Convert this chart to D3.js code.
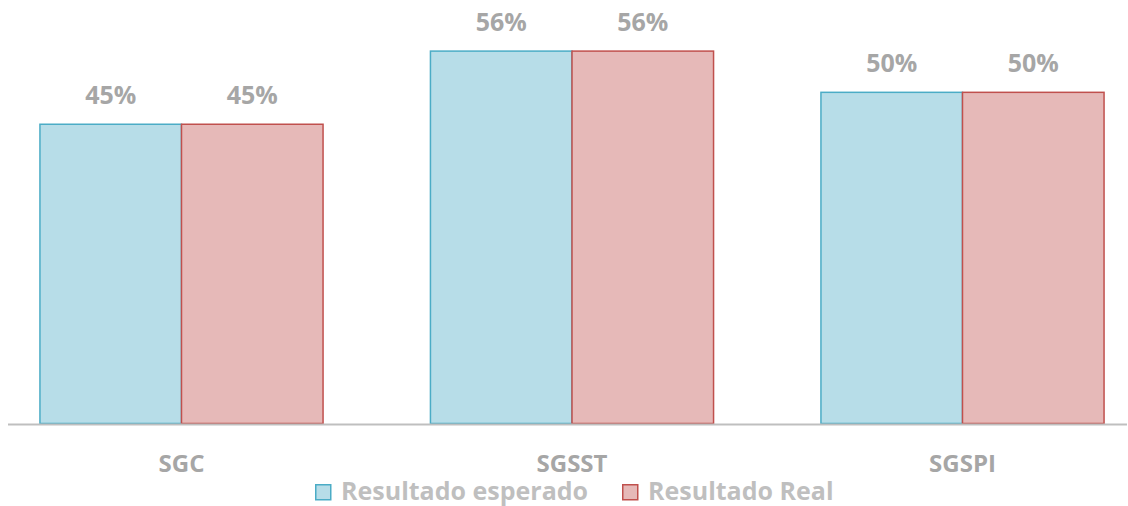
<!DOCTYPE html>
<html>
<head>
<meta charset="utf-8">
<script src="https://cdn.jsdelivr.net/npm/d3@7"></script>
<style>
  body { margin: 0; background: #fff; }
  svg { display: block; font-family: "Open Sans", sans-serif; font-weight: bold; }
</style>
</head>
<body>
<svg id="chart" width="1128" height="506"></svg>
<script>
var categories = ["SGC", "SGSST", "SGSPI"];
var seriesNames = ["Resultado esperado", "Resultado Real"];
var esperado = [0.45, 0.56, 0.498];
var real = [0.45, 0.56, 0.498];

var fills = ["#b7dde8", "#e6b9b8"];
var strokes = ["#4bacc6", "#c0504d"];

var svg = d3.select("#chart");
var baseY = 423.5;

var x = d3.scaleBand().domain(categories)
    .range([-13.75, 1157.75])
    .paddingInner(0.275)
    .paddingOuter(0.1375);
var xs = d3.scaleBand().domain(seriesNames).range([0, x.bandwidth()]);
var y = d3.scaleLinear().domain([0, 0.6]).range([baseY, baseY - 0.6 * 665]);
var fmt = d3.format(".0%");

var rows = categories.map(function (c, i) {
    return { cat: c, values: [esperado[i], real[i]] };
});

var groups = svg.append("g").selectAll("g")
    .data(rows)
    .enter()
    .append("g")
    .attr("transform", function (d) { return "translate(" + x(d.cat) + ",0)"; });

var bars = groups.selectAll("g")
    .data(function (d) { return d.values.map(function (v, j) { return { v: v, s: seriesNames[j], j: j }; }); })
    .enter()
    .append("g");

bars.append("rect")
    .attr("x", function (d) { return xs(d.s); })
    .attr("y", function (d) { return y(d.v); })
    .attr("width", xs.bandwidth())
    .attr("height", function (d) { return baseY - y(d.v); })
    .attr("fill", function (d) { return fills[d.j]; })
    .attr("stroke", function (d) { return strokes[d.j]; })
    .attr("stroke-width", 1.5);

bars.append("text")
    .attr("x", function (d) { return xs(d.s) + xs.bandwidth() / 2; })
    .attr("y", function (d) { return y(d.v) - 20; })
    .attr("text-anchor", "middle")
    .attr("font-size", 25)
    .attr("fill", "#a6a6a6")
    .text(function (d) { return fmt(d.v); });

// axis line
svg.append("line")
    .attr("x1", 8).attr("x2", 1127)
    .attr("y1", baseY + 1).attr("y2", baseY + 1)
    .attr("stroke", "#bfbfbf")
    .attr("stroke-width", 2);

svg.append("g").selectAll("text")
    .data(categories)
    .enter()
    .append("text")
    .attr("x", function (d) { return x(d) + x.bandwidth() / 2; })
    .attr("y", 472)
    .attr("text-anchor", "middle")
    .attr("font-size", 24)
    .attr("fill", "#a6a6a6")
    .text(function (d) { return d; });

// legend
var legendX = [315, 622];
var legend = svg.append("g").selectAll("g")
    .data(seriesNames)
    .enter()
    .append("g")
    .attr("transform", function (d, i) { return "translate(" + legendX[i] + ",484)"; });

legend.append("rect")
    .attr("x", 0.75).attr("y", 0.75)
    .attr("width", 15).attr("height", 15)
    .attr("fill", function (d, i) { return fills[i]; })
    .attr("stroke", function (d, i) { return strokes[i]; })
    .attr("stroke-width", 1.5);

legend.append("text")
    .attr("x", 26)
    .attr("y", 16)
    .attr("font-size", 25)
    .attr("fill", "#bfbfbf")
    .text(function (d) { return d; });
</script>
</body>
</html>
